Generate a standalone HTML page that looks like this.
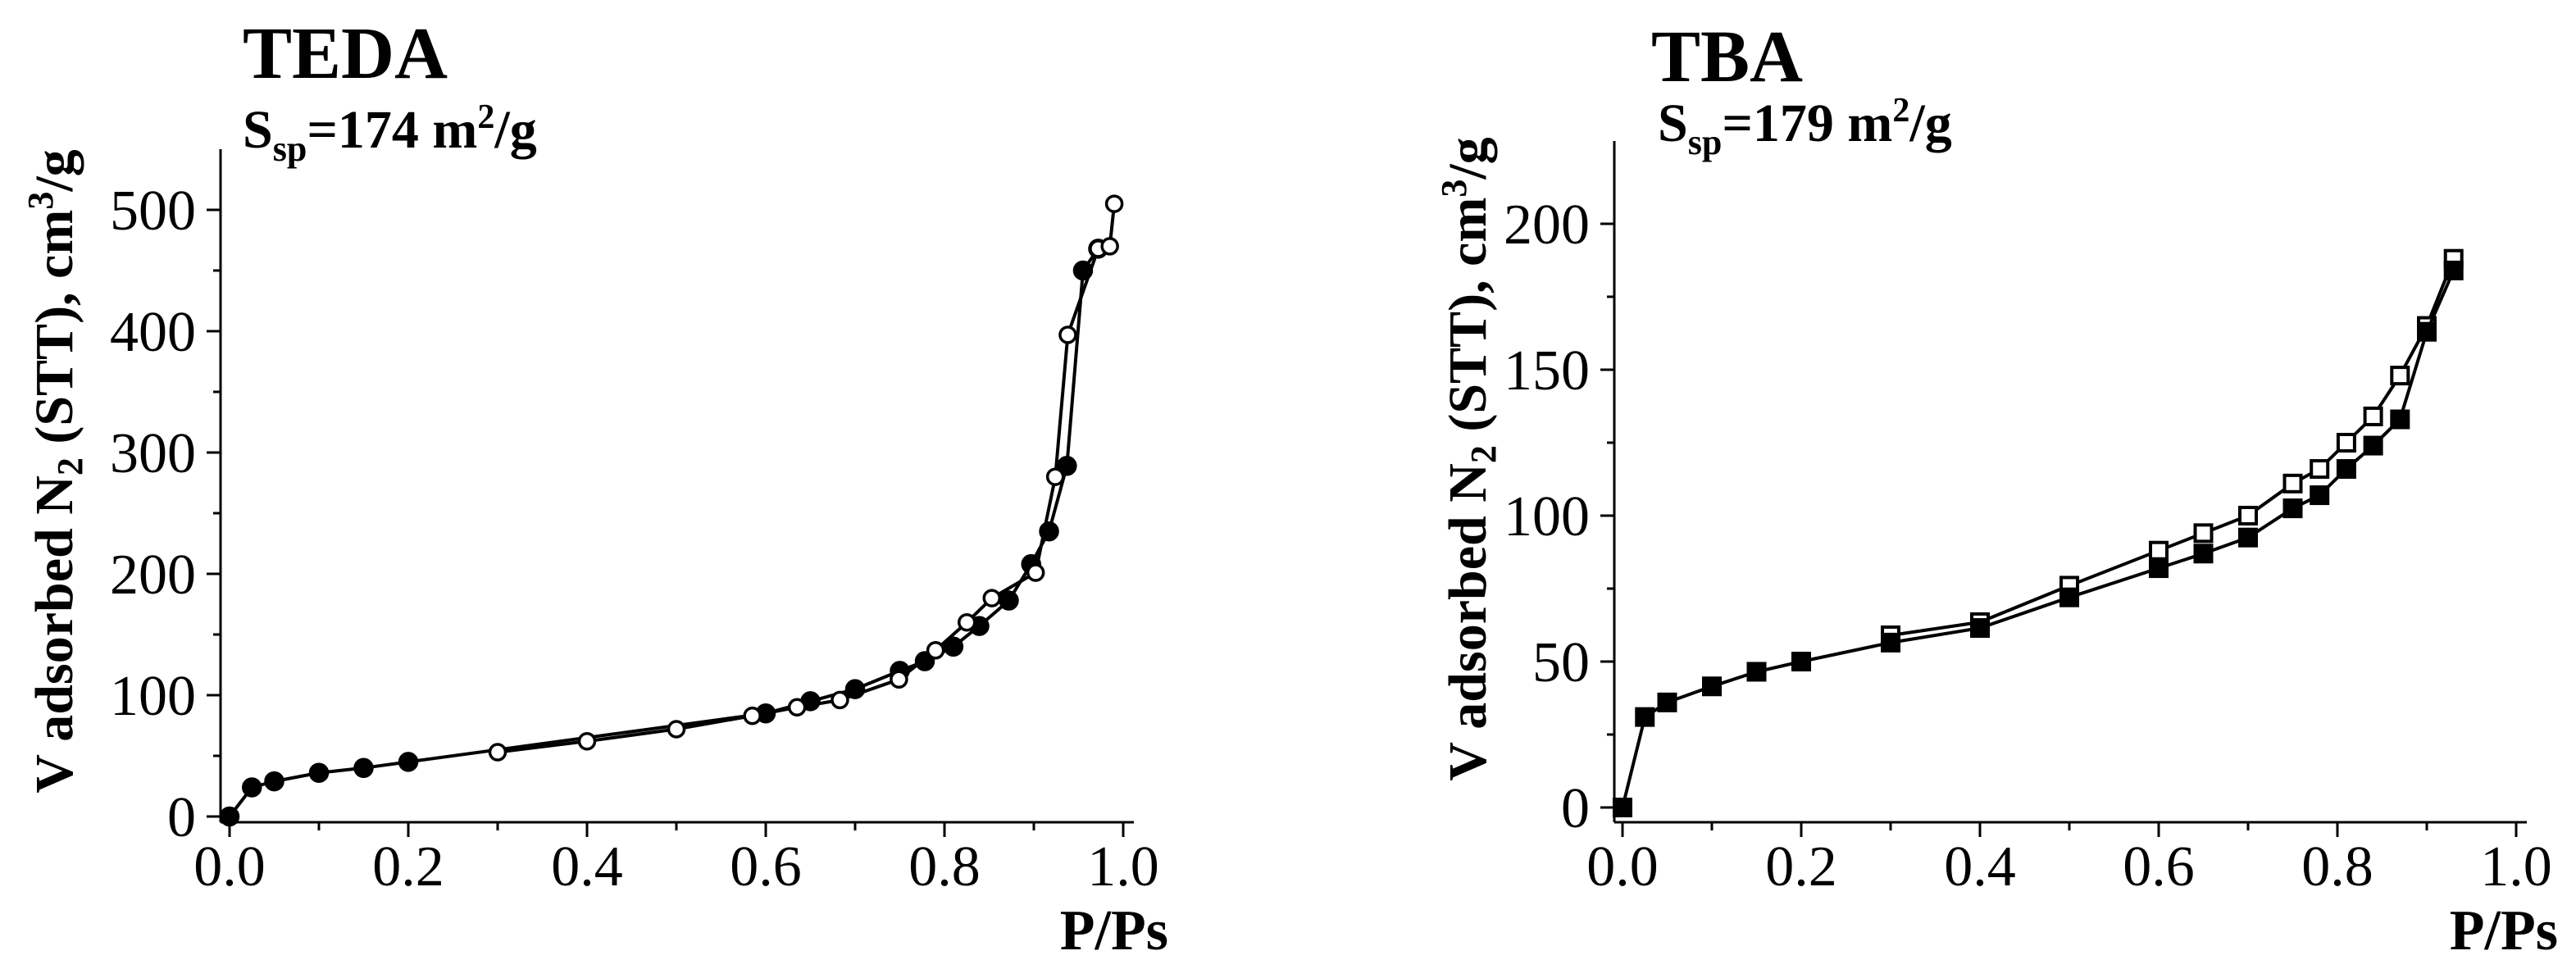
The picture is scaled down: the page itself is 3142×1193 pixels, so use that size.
<!DOCTYPE html>
<html><head><meta charset="utf-8"><style>
html,body{margin:0;padding:0;background:#fff;}
svg{display:block;font-family:"Liberation Serif",serif;}
</style></head>
<body>
<svg id="fig" width="3142" height="1193" viewBox="0 0 3142 1193" xmlns="http://www.w3.org/2000/svg">
<rect width="3142" height="1193" fill="#fff"/>
<g id="left">
  <text x="296" y="95" font-size="90" font-weight="bold">TEDA</text>
  <text x="296" y="180" font-size="66" font-weight="bold">S<tspan font-size="44" dy="16">sp</tspan><tspan dy="-16">=174 m</tspan><tspan font-size="42" dy="-24">2</tspan><tspan dy="24">/g</tspan></text>
  <text transform="translate(88,575) rotate(-90)" text-anchor="middle" font-size="66" font-weight="bold">V adsorbed N<tspan font-size="44" dy="12">2</tspan><tspan dy="-12"> (STT), cm</tspan><tspan font-size="44" dy="-24">3</tspan><tspan dy="24">/g</tspan></text>
  <text x="1425" y="1158" text-anchor="end" font-size="70" font-weight="bold">P/Ps</text>
</g>
<g id="right">
  <text x="2014" y="99" font-size="90" font-weight="bold">TBA</text>
  <text x="2022" y="172" font-size="66" font-weight="bold">S<tspan font-size="44" dy="16">sp</tspan><tspan dy="-16">=179 m</tspan><tspan font-size="42" dy="-24">2</tspan><tspan dy="24">/g</tspan></text>
  <text transform="translate(1812,560) rotate(-90)" text-anchor="middle" font-size="66" font-weight="bold">V adsorbed N<tspan font-size="44" dy="12">2</tspan><tspan dy="-12"> (STT), cm</tspan><tspan font-size="44" dy="-24">3</tspan><tspan dy="24">/g</tspan></text>
  <text x="3120" y="1158" text-anchor="end" font-size="70" font-weight="bold">P/Ps</text>
</g>
</svg>
<script>
// TEDA data
const tedaAdsP = [0,0.025,0.05,0.1,0.15,0.2,0.6,0.65,0.7,0.75,0.778,0.81,0.839,0.872,0.897,0.917,0.937,0.955,0.972];
const tedaAdsV = [0,24,29,36,40,45,85,95,105,120,128,140,157,178,208,235,289,450,468];
const tedaDesP = [0.3,0.4,0.5,0.585,0.635,0.683,0.749,0.79,0.825,0.853,0.902,0.924,0.938,0.972,0.985,0.99];
const tedaDesV = [53,62,72,83,90,96,113,137,160,180,201,280,397,468,470,505];
const tedaYTicks = [0,100,200,300,400,500];
const tedaXTicks = [0,0.2,0.4,0.6,0.8,1.0];
// TBA data
const tbaAdsP = [0,0.025,0.05,0.1,0.15,0.2,0.3,0.4,0.5,0.6,0.65,0.7,0.75,0.78,0.81,0.84,0.87,0.9,0.93];
const tbaAdsV = [0,31,36,41.5,46.5,50,56.5,61.5,72,82,87,92.5,102.5,107,116,124,133,163,184];
const tbaDesP = [0.3,0.4,0.5,0.6,0.65,0.7,0.75,0.78,0.81,0.84,0.87,0.9,0.93];
const tbaDesV = [59,63.5,76,88,94,100,111,116,125,134,148,165,188];
const tbaYTicks = [0,50,100,150,200];
const tbaXTicks = [0,0.2,0.4,0.6,0.8,1.0];

const NS = "http://www.w3.org/2000/svg";
function mk(parent, tag, attrs){
  const e = document.createElementNS(NS, tag);
  for (const k in attrs) e.setAttribute(k, attrs[k]);
  parent.appendChild(e);
  return e;
}
function drawChart(g, cfg){
  const xs = p => cfg.x0 + p * cfg.xScale;
  const ys = v => cfg.y0 - v * cfg.yScale;
  const ya = mk(g, 'line', {x1:cfg.axX, y1:cfg.axTop, x2:cfg.axX, y2:cfg.axY, stroke:'#000', 'stroke-width':3});
  
  
  const xa = mk(g, 'line', {x1:cfg.axX, y1:cfg.axY, x2:cfg.axRight, y2:cfg.axY, stroke:'#000', 'stroke-width':3});
  
  
  cfg.yTicks.forEach((v, i) => {
    const y = ys(v);
    const t = mk(g, 'line', {x1:cfg.axX - 17, y1:y, x2:cfg.axX, y2:y, stroke:'#000', 'stroke-width':3});
    
    
    const lb = mk(g, 'text', {x:cfg.axX - 30, y:y + 24, 'text-anchor':'end', 'font-size':70});
    lb.textContent = String(v);
    
    
    if (i < cfg.yTicks.length - 1) {
      const ym = ys((v + cfg.yTicks[i+1]) / 2);
      const m = mk(g, 'line', {x1:cfg.axX - 9, y1:ym, x2:cfg.axX, y2:ym, stroke:'#000', 'stroke-width':3});
      
      
    }
  });
  cfg.xTicks.forEach((p, i) => {
    const x = xs(p);
    const t = mk(g, 'line', {x1:x, y1:cfg.axY, x2:x, y2:cfg.axY + 18, stroke:'#000', 'stroke-width':3});
    
    
    const lb = mk(g, 'text', {x:x, y:1080, 'text-anchor':'middle', 'font-size':70});
    lb.textContent = p.toFixed(1);
    
    
    if (i < cfg.xTicks.length - 1) {
      const xm = xs((p + cfg.xTicks[i+1]) / 2);
      const m = mk(g, 'line', {x1:xm, y1:cfg.axY, x2:xm, y2:cfg.axY + 10, stroke:'#000', 'stroke-width':3});
      
      
    }
  });
  cfg.series.forEach(s => {
    const pts = s.P.map((p, i) => xs(p).toFixed(1) + ',' + ys(s.V[i]).toFixed(1)).join(' ');
    const pl = mk(g, 'polyline', {points:pts, fill:'none', stroke:'#000', 'stroke-width':4, 'stroke-linejoin':'round'});
    
    
    s.P.forEach((p, i) => {
      const cx = xs(p), cy = ys(s.V[i]);
      let m;
      if (cfg.marker === 'circle') {
        m = mk(g, 'circle', {cx:cx, cy:cy, r: s.filled ? 10.5 : 9.5, fill: s.filled ? '#000' : '#fff', stroke:'#000', 'stroke-width': 3.5});
      } else {
        m = mk(g, 'rect', {x:cx - 10, y:cy - 10, width:20, height:20, fill: s.filled ? '#000' : '#fff', stroke:'#000', 'stroke-width': 4});
      }
      
      
    });
  });
}
drawChart(document.getElementById('left'), {
  x0:280, xScale:1090, y0:996, yScale:1.48,
  axX:269, axY:1003, axTop:182, axRight:1383,
  yTicks:tedaYTicks, xTicks:tedaXTicks, marker:'circle',
  series:[
    {name:'teda-adsorption', P:tedaAdsP, V:tedaAdsV, filled:true},
    {name:'teda-desorption', P:tedaDesP, V:tedaDesV, filled:false}
  ]
});
drawChart(document.getElementById('right'), {
  x0:1979, xScale:1090, y0:985, yScale:3.56,
  axX:1969, axY:1003, axTop:172, axRight:3082,
  yTicks:tbaYTicks, xTicks:tbaXTicks, marker:'square',
  series:[
    {name:'tba-desorption', P:tbaDesP, V:tbaDesV, filled:false},
    {name:'tba-adsorption', P:tbaAdsP, V:tbaAdsV, filled:true}
  ]
});
</script>
</body></html>
